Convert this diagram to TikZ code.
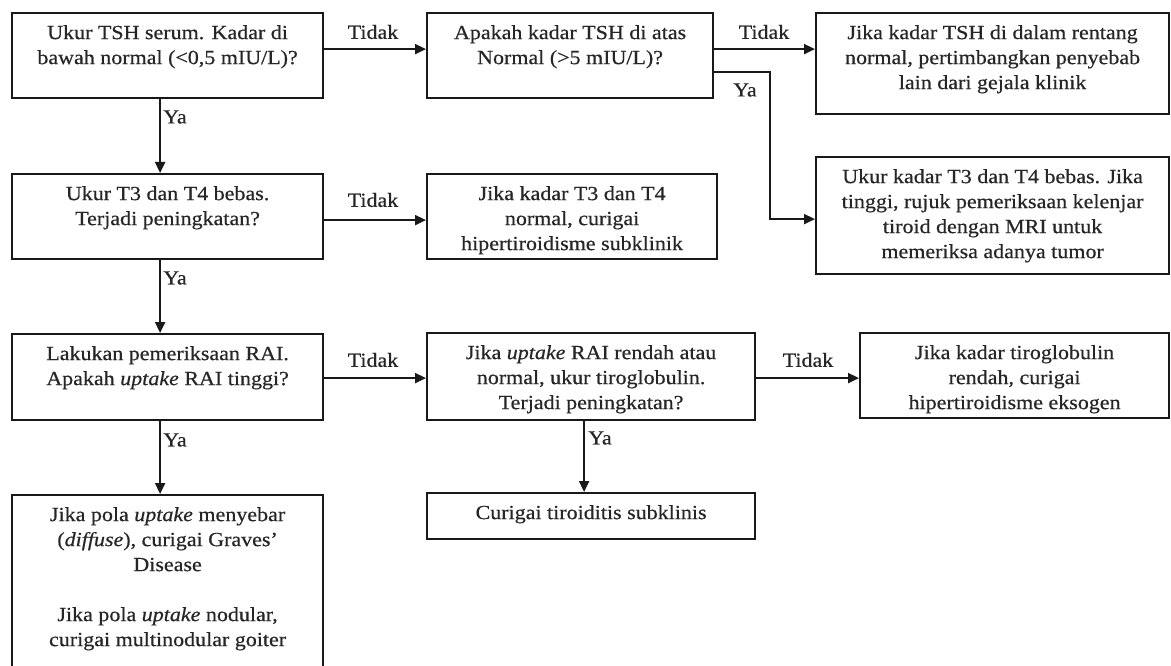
\documentclass[tikz,border=0pt]{standalone}
\usepackage{fontspec}
\setmainfont[FakeStretch=1.1,FakeBold=0.5]{Liberation Serif}
\usetikzlibrary{arrows.meta,positioning}
\begin{document}
\begin{tikzpicture}[x=1pt,y=-1pt,
  box/.style={draw=black!90, line width=2.2pt, inner sep=0pt, anchor=north west},
  txt/.style={align=center, anchor=north, inner sep=0pt, text=black!85, font=\fontsize{20}{25}\selectfont},
  lbl/.style={inner sep=0pt, text=black!85, font=\fontsize{20}{25}\selectfont},
  arr/.style={draw=black!90, line width=1.9pt, -{Triangle[length=11pt,width=10pt]}},
]
\useasboundingbox (0,0) rectangle (1171,666);
\clip (0,0) rectangle (1171,666);
\fill[white] (0,0) rectangle (1171,666);

% boxes
\node[box, minimum width=311pt, minimum height=85pt]  (A) at (11,12) {};
\node[box, minimum width=286pt, minimum height=85pt]  (B) at (426,12) {};
\node[box, minimum width=353pt, minimum height=101pt] (C) at (815,12) {};
\node[box, minimum width=311pt, minimum height=85pt]  (D) at (11,173) {};
\node[box, minimum width=290pt, minimum height=85pt]  (E) at (426,173) {};
\node[box, minimum width=353pt, minimum height=117pt] (F) at (815,156) {};
\node[box, minimum width=311pt, minimum height=86pt]  (G) at (11,333) {};
\node[box, minimum width=328pt, minimum height=87pt]  (H) at (426,332) {};
\node[box, minimum width=309pt, minimum height=85pt]  (I) at (859,332) {};
\node[box, minimum width=328pt, minimum height=46pt]  (J) at (426,492) {};
\node[box, minimum width=311pt, minimum height=200pt] (K) at (11,494) {};

% texts
\node[txt, below=13pt of A.north] (At) {Ukur TSH serum. Kadar di\\bawah normal (<0,5 mIU/L)?};
\node[txt, below=13pt of B.north] (Bt) {Apakah kadar TSH di atas\\Normal (>5 mIU/L)?};
\node[txt, below=13pt of C.north] (Ct) {Jika kadar TSH di dalam rentang\\normal, pertimbangkan penyebab\\lain dari gejala klinik};
\node[txt, below=13pt of D.north] (Dt) {Ukur T3 dan T4 bebas.\\Terjadi peningkatan?};
\node[txt, below=13pt of E.north] (Et) {Jika kadar T3 dan T4\\normal, curigai\\hipertiroidisme subklinik};
\node[txt, below=13pt of F.north] (Ft) {Ukur kadar T3 dan T4 bebas. Jika\\tinggi, rujuk pemeriksaan kelenjar\\tiroid dengan MRI untuk\\memeriksa adanya tumor};
\node[txt, below=13pt of G.north] (Gt) {Lakukan pemeriksaan RAI.\\Apakah \textit{uptake} RAI tinggi?};
\node[txt, below=13pt of H.north] (Ht) {Jika \textit{uptake} RAI rendah atau\\normal, ukur tiroglobulin.\\Terjadi peningkatan?};
\node[txt, below=13pt of I.north] (It) {Jika kadar tiroglobulin\\rendah, curigai\\hipertiroidisme eksogen};
\node[txt, below=13pt of J.north] (Jt) {Curigai tiroiditis subklinis};
\node[txt, below=13pt of K.north] (Kt) {Jika pola \textit{uptake} menyebar\\(\textit{diffuse}), curigai Graves'\\Disease\\[25pt]Jika pola \textit{uptake} nodular,\\curigai multinodular goiter};

% connectors
\draw[arr] ([yshift=6.5pt]A.east) -- ([yshift=6.5pt]A.east -| B.west);
\draw[arr] ([yshift=6.5pt]B.east) -- ([yshift=6.5pt]B.east -| C.west);
\draw[arr] ([yshift=-16.5pt]B.east) -- ++(56,0) coordinate (bend) |- ([yshift=-3.5pt]F.west);
\draw[arr] ([xshift=-7.5pt]A.south) -- ([xshift=-7.5pt]A.south |- D.north);
\draw[arr] ([yshift=-3.5pt]D.east) -- ([yshift=-3.5pt]D.east -| E.west);
\draw[arr] ([xshift=-7.5pt]D.south) -- ([xshift=-7.5pt]D.south |- G.north);
\draw[arr] ([yshift=-1pt]G.east) -- ([yshift=-1pt]G.east -| H.west);
\draw[arr] ([xshift=-7.5pt]G.south) -- ([xshift=-7.5pt]G.south |- K.north);
\draw[arr] ([yshift=-1.5pt]H.east) -- ([yshift=-1.5pt]H.east -| I.west);
\draw[arr] ([xshift=-7pt]H.south) -- ([xshift=-7pt]H.south |- J.north);

% labels
\node[lbl] (l1) at (373,32) {Tidak};
\node[lbl] (l2) at (764,32) {Tidak};
\node[lbl] (l3) at (745,90) {Ya};
\node[lbl] (l4) at (175,117) {Ya};
\node[lbl] (l5) at (373,200) {Tidak};
\node[lbl] (l6) at (175,278) {Ya};
\node[lbl] (l7) at (373,360) {Tidak};
\node[lbl] (l8) at (175,440) {Ya};
\node[lbl] (l9) at (808,360) {Tidak};
\node[lbl] (l10) at (600,438) {Ya};
\end{tikzpicture}
\end{document}
